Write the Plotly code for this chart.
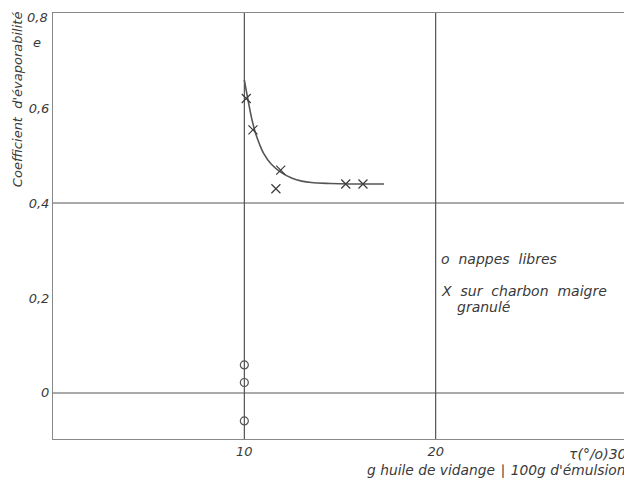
import plotly.graph_objects as go

# data
libres_x = [10, 10, 10]
libres_y = [0.059, 0.022, -0.059]

charbon_x = [10.1, 10.45, 11.9, 11.65, 15.3, 16.2]
charbon_y = [0.62, 0.554, 0.469, 0.43, 0.44, 0.44]

curve_x = [10.0, 10.2, 10.4, 10.6, 10.8, 11.0, 11.4, 11.9, 12.5, 13.0, 13.5, 14.5, 15.5, 16.5, 17.3]
curve_y = [0.659, 0.615, 0.575, 0.545, 0.523, 0.505, 0.482, 0.465, 0.452, 0.446, 0.443, 0.441, 0.44, 0.44, 0.44]

x_ticks = [10, 20, 30]
x_tick_labels = ["10", "20", "τ(°/o)30"]
y_ticks = [0, 0.2, 0.4, 0.6, 0.8]
y_tick_labels = ["0", "0,2", "0,4", "0,6", "0,8"]
x_grid = [10, 20]
y_grid = [0, 0.4]

INK = "#3a3a3a"
FONT = dict(family="DejaVu Sans", size=13, color=INK, style="italic")
BIG = dict(family="DejaVu Sans", size=14, color=INK, style="italic")

fig = go.Figure()
fig.add_trace(go.Scatter(x=curve_x, y=curve_y, mode="lines",
                         line=dict(color="#555555", width=1.6, shape="spline"),
                         showlegend=False, hoverinfo="skip"))
fig.add_trace(go.Scatter(x=charbon_x, y=charbon_y, mode="markers",
                         marker=dict(symbol="x-thin-open", size=9, color=INK,
                                     line=dict(color=INK, width=1.2)),
                         showlegend=False))
fig.add_trace(go.Scatter(x=libres_x, y=libres_y, mode="markers",
                         marker=dict(symbol="circle-open", size=8, color="#555555",
                                     line=dict(color="#555555", width=1.2)),
                         showlegend=False))

shapes = []
for gx in x_grid:
    shapes.append(dict(type="line", xref="x", yref="paper", x0=gx, x1=gx, y0=0, y1=1,
                       line=dict(color="#444444", width=1.1), layer="below"))
for gy in y_grid:
    shapes.append(dict(type="line", xref="paper", yref="y", x0=0, x1=1, y0=gy, y1=gy,
                       line=dict(color="#555555", width=1.1), layer="below"))

annotations = [
    dict(text=x_tick_labels[2], xref="paper", yref="paper",
         x=1.003, y=-0.012, xanchor="right", yanchor="top", showarrow=False, font=BIG),
    dict(text=y_tick_labels[4], xref="paper", yref="paper",
         x=-0.005, y=1.0117, xanchor="right", yanchor="top", showarrow=False, font=FONT),
    dict(text="Coefficient  d'évaporabilité", xref="paper", yref="paper",
         x=-0.062, y=1.01, xanchor="center", yanchor="top", textangle=-90,
         showarrow=False, font=FONT),
    dict(text="e", xref="paper", yref="paper", x=-0.038, y=0.952,
         showarrow=False, font=FONT),
    dict(text="g huile de vidange ∣ 100g d'émulsion", xref="paper", yref="paper",
         x=1.0, y=-0.05, xanchor="right", yanchor="top", showarrow=False,
         font=dict(family="DejaVu Sans", size=13.8, color=INK, style="italic")),
    dict(text="o  nappes  libres", xref="paper", yref="paper", x=0.672, y=0.423,
         xanchor="left", yanchor="middle", showarrow=False, font=BIG),
    dict(text="X  sur  charbon  maigre", xref="paper", yref="paper", x=0.672, y=0.348,
         xanchor="left", yanchor="middle", showarrow=False, font=BIG),
    dict(text="granulé", xref="paper", yref="paper", x=0.7, y=0.31,
         xanchor="left", yanchor="middle", showarrow=False, font=BIG),
]

fig.update_layout(
    width=624, height=471,
    margin=dict(l=45, r=5, t=5, b=40),
    paper_bgcolor="white", plot_bgcolor="white",
    font=FONT,
    shapes=shapes, annotations=annotations,
    xaxis=dict(range=[0, 30], tickvals=x_ticks[:2], ticktext=x_tick_labels[:2],
               showgrid=False, zeroline=False, showline=True, mirror=True,
               linecolor="#888888", linewidth=1, ticks="", tickfont=FONT,
               automargin=False),
    yaxis=dict(range=[-0.097, 0.8], tickvals=y_ticks[:4], ticktext=y_tick_labels[:4],
               showgrid=False, zeroline=False, showline=True, mirror=True,
               linecolor="#888888", linewidth=1, ticks="", tickfont=FONT,
               automargin=False),
)

fig.write_html("out.html")
